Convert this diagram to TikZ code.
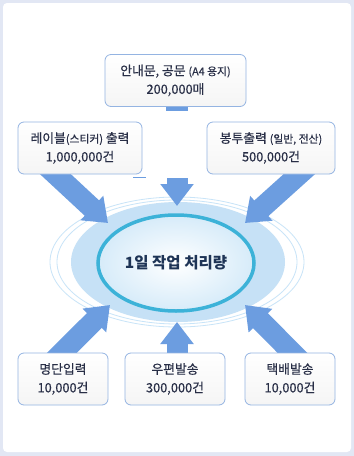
\documentclass[tikz,border=0pt]{standalone}
\usepackage{fontspec}
\setmainfont{Noto Sans CJK KR}
\newfontfamily\boxfont{Noto Sans CJK KR}[FakeBold=0.5]
\usetikzlibrary{arrows.meta,shapes.geometric}
\pgfdeclarelayer{back}
\pgfdeclarelayer{mid}
\pgfsetlayers{back,mid,main}
\definecolor{framebg}{RGB}{226,231,244}
\definecolor{boxline}{RGB}{148,180,226}
\definecolor{arrowblue}{RGB}{108,157,224}
\definecolor{ringfill}{RGB}{198,225,246}
\definecolor{ringline}{RGB}{200,228,248}
\definecolor{coreline}{RGB}{60,178,216}
\definecolor{corefill}{RGB}{214,235,249}
\definecolor{textnavy}{RGB}{40,46,70}
\definecolor{titlenavy}{RGB}{30,52,86}
\newcommand{\paren}[1]{{\fontsize{10.8}{12}\selectfont #1}}

\tikzset{
  infobox/.style={draw=boxline, line width=0.8pt, rounded corners=6pt,
    top color=white, bottom color=gray!8, minimum height=52pt,
    align=center, inner sep=0pt, text=textnavy,
    font=\boxfont\fontsize{12.8}{18.5}\selectfont},
  bigarrow/.style={draw=arrowblue, line width=21pt,
    -{Triangle[width=32pt,length=22pt]}},
  core/.style={ellipse, draw=coreline, line width=3.5pt,
    inner color=white, outer color=corefill,
    minimum width=156pt, minimum height=96pt, text=titlenavy,
    font=\fontsize{15.5}{17}\selectfont\bfseries},
}

\begin{document}
\begin{tikzpicture}[x=1pt,y=-1pt]
  \useasboundingbox (0,0) rectangle (354,456);
  % Arrow tips
  \coordinate (tipA) at (108,223);
  \coordinate (tipB) at (177,206);
  \coordinate (tipC) at (245,223);
  \coordinate (tipD) at (110,305);
  \coordinate (tipE) at (177,322);
  \coordinate (tipF) at (245,305);
  \coordinate (topfoot) at (177,178);
  % Frame and rings
  \begin{pgfonlayer}{back}
    \fill[framebg] (0,0) rectangle (354,456);
    \fill[white, rounded corners=4pt] (3,3) rectangle (351,452);
    \draw[ringline, line width=0.8pt] (177,262) ellipse [x radius=127, y radius=65];
    \draw[ringline, line width=0.8pt] (177,262) ellipse [x radius=120, y radius=62];
    \fill[ringfill] (178,262) ellipse [x radius=107, y radius=60];
  \end{pgfonlayer}
  \node[core] (core) at (176,263) {1일 작업 처리량};
  % Boxes
  \node[infobox, minimum width=141pt] (notice) at (175.5,80.5)
    {안내문, 공문 \paren{(A4 용지)}\\200,000매};
  \node[infobox, minimum width=124pt] (label) at (80,148)
    {레이블\paren{(스티커)} 출력\\1,000,000건};
  \node[infobox, minimum width=128pt] (envelope) at (271,148)
    {봉투출력 \paren{(일반, 전산)}\\500,000건};
  \node[infobox, minimum width=90pt] (roster) at (63,379)
    {명단입력\\10,000건};
  \node[infobox, minimum width=100pt] (post) at (175,379)
    {우편발송\\300,000건};
  \node[infobox, minimum width=90pt] (parcel) at (290,379)
    {택배발송\\10,000건};
  % Arrows
  \begin{pgfonlayer}{mid}
    \fill[arrowblue] ([xshift=-9.5pt]notice.south) rectangle ++(22,4);
    \draw[arrowblue, line width=1pt] (133,177) -- (146,177);
    \draw[bigarrow] (topfoot) -- (tipB);
    \draw[bigarrow] ([shift={(-34,-9)}]label.south) -- (tipA);
    \draw[bigarrow] ([shift={(38,-9)}]envelope.south) -- (tipC);
    \draw[bigarrow] ([shift={(-11,10)}]roster.north) -- (tipD);
    \draw[bigarrow] ([shift={(2,10)}]post.north) -- (tipE);
    \draw[bigarrow] ([shift={(12,10)}]parcel.north) -- (tipF);
  \end{pgfonlayer}
\end{tikzpicture}
\end{document}
